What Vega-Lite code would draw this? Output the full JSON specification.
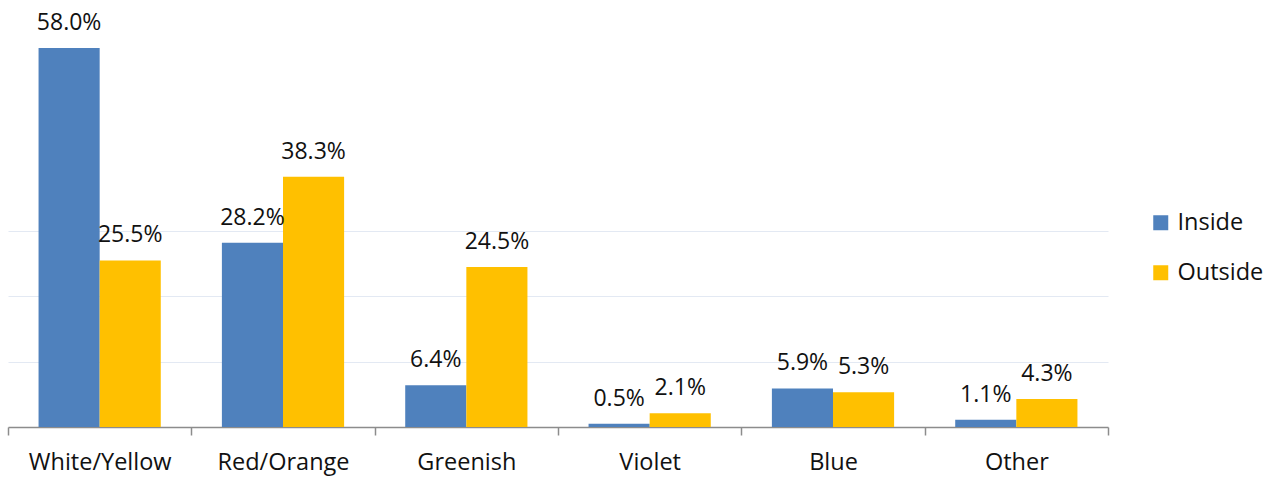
{
  "$schema": "https://vega.github.io/schema/vega-lite/v6.json",
  "autosize": "none",
  "width": 1100,
  "height": 392,
  "padding": {"left": 8, "top": 35, "right": 163, "bottom": 50},
  "background": "white",
  "config": {"view": {"stroke": null}, "font": "Open Sans"},
  "data": {
    "values": [
      {"category": "White/Yellow", "series": "Inside", "value": 0.580},
      {"category": "White/Yellow", "series": "Outside", "value": 0.255},
      {"category": "Red/Orange", "series": "Inside", "value": 0.282},
      {"category": "Red/Orange", "series": "Outside", "value": 0.383},
      {"category": "Greenish", "series": "Inside", "value": 0.064},
      {"category": "Greenish", "series": "Outside", "value": 0.245},
      {"category": "Violet", "series": "Inside", "value": 0.005},
      {"category": "Violet", "series": "Outside", "value": 0.021},
      {"category": "Blue", "series": "Inside", "value": 0.059},
      {"category": "Blue", "series": "Outside", "value": 0.053},
      {"category": "Other", "series": "Inside", "value": 0.011},
      {"category": "Other", "series": "Outside", "value": 0.043}
    ]
  },
  "encoding": {
    "x": {
      "field": "category", "type": "nominal", "sort": null,
      "scale": {"paddingInner": 0, "paddingOuter": 0},
      "axis": {
        "title": null, "labelAngle": 0, "tickBand": "extent",
        "tickSize": 8, "tickColor": "#8C8C8C", "domainColor": "#8C8C8C", "domainWidth": 1.5, "tickWidth": 1.5,
        "labelFontSize": 23.5, "labelColor": "#111111", "labelPadding": 15, "labelFont": "Open Sans"
      }
    },
    "xOffset": {
      "field": "series", "type": "nominal", "sort": ["Inside", "Outside"],
      "scale": {"paddingOuter": 0.5, "paddingInner": 0}
    },
    "y": {
      "field": "value", "type": "quantitative",
      "scale": {"domain": [0, 0.6], "nice": false},
      "axis": {
        "title": null, "labels": false, "ticks": false, "domain": false,
        "values": [0.1, 0.2, 0.3], "gridColor": "#E3E9F3", "gridWidth": 1.2
      }
    }
  },
  "layer": [
    {
      "mark": {"type": "bar"},
      "encoding": {
        "color": {
          "field": "series", "type": "nominal", "sort": ["Inside", "Outside"],
          "scale": {"domain": ["Inside", "Outside"], "range": ["#4F81BD", "#FFC000"]},
          "legend": {
            "title": null, "orient": "none", "legendX": 1141, "legendY": 176,
            "symbolType": "square", "symbolSize": 225, "symbolStrokeWidth": 0,
            "labelFontSize": 23.5, "labelFont": "Open Sans", "labelColor": "#111111",
            "rowPadding": 25, "labelOffset": 5
          }
        }
      }
    },
    {
      "mark": {"type": "text", "baseline": "alphabetic", "dy": -18, "fontSize": 23, "font": "Open Sans", "color": "#111111"},
      "encoding": {
        "text": {"field": "value", "type": "quantitative", "format": ".1%"},
        "detail": {"field": "series"}
      }
    }
  ]
}
